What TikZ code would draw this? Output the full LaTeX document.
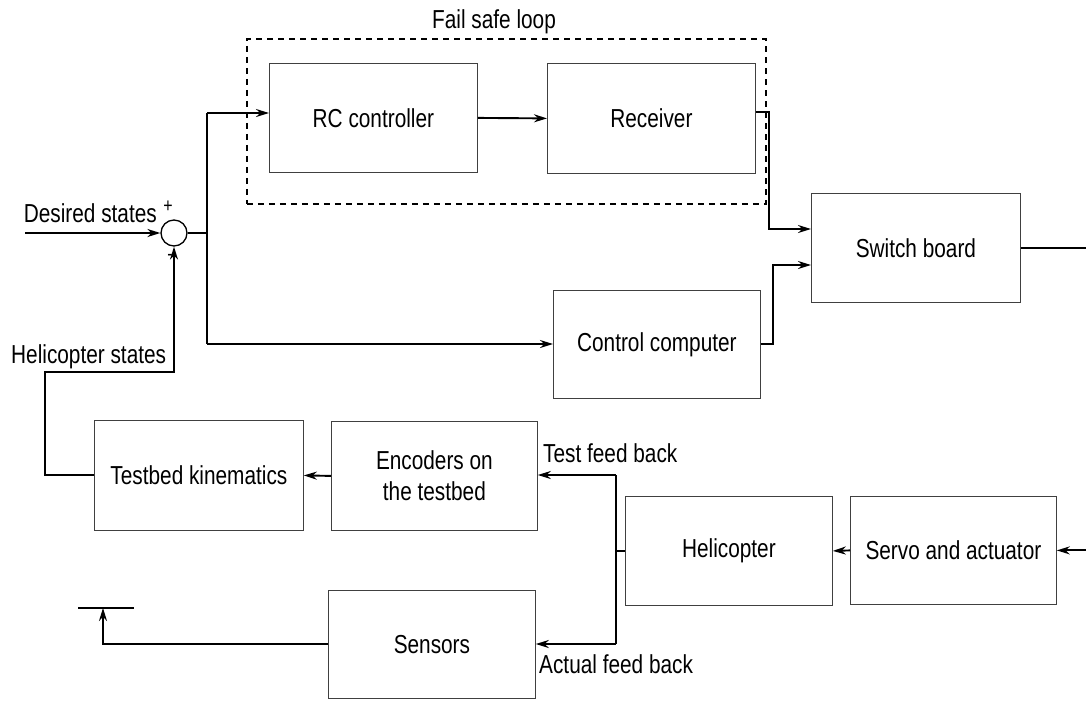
\documentclass[tikz,border=0pt]{standalone}
\usepackage{fontspec}
\setmainfont{Liberation Sans}[FakeStretch=0.8]
\usetikzlibrary{arrows.meta}
\begin{document}
\begin{tikzpicture}[x=1pt,y=-1pt,
  font=\fontsize{26}{31}\selectfont,
  block/.style={draw=black!75,line width=0.8pt,inner sep=0pt,anchor=north west,align=center},
  fsbox/.style={draw=black,line width=1.7pt,dash pattern=on 6pt off 5pt,inner sep=0pt,anchor=north west},
  wire/.style={draw=black,line width=1.9pt},
  arr/.style={wire,-{Stealth[length=13pt,width=8pt]}},
  sign/.style={font=\fontsize{20}{24}\selectfont,inner sep=0pt}]
\useasboundingbox (0,0) rectangle (1086,702);

% fail safe loop
\node[fsbox,minimum width=519pt,minimum height=165pt] (fsl) at (246,38) {};
\node[inner sep=0pt] (fsllabel) at (494,22) {Fail safe loop};

% blocks
\node[block,minimum width=208pt,minimum height=109pt] (rc) at (269,63) {RC controller};
\node[block,minimum width=208pt,minimum height=110pt] (rec) at (547,63) {Receiver};
\node[block,minimum width=209pt,minimum height=109pt] (sw) at (811,193) {Switch board};
\node[block,minimum width=207pt,minimum height=108pt] (cc) at (553,290) {Control computer};
\node[block,minimum width=209pt,minimum height=110pt] (tb) at (94,420) {Testbed kinematics};
\node[block,minimum width=206pt,minimum height=109pt] (enc) at (331,421) {Encoders on\\the testbed};
\node[block,minimum width=207pt,minimum height=109pt] (heli) at (625,496) {Helicopter};
\node[block,minimum width=206pt,minimum height=108pt] (servo) at (850,496) {Servo and actuator};
\node[block,minimum width=207pt,minimum height=108pt] (sens) at (328,590) {Sensors};

% summing junction
\node[draw=black,line width=1.3pt,circle,minimum size=26pt,inner sep=0pt] (sum) at (174,233) {};
\node[sign] (plus) at (168,207) {+};
\node[sign] (minus) at (170,257) {-};

% named points
\coordinate (din) at (25,233);
\coordinate (j) at (207,233);
\coordinate (jt) at (207,113);
\coordinate (jb) at (207,344);
\coordinate (r1) at (769,112);
\coordinate (r2) at (769,229);
\coordinate (c1) at (773,265);
\coordinate (redge) at (1086,0);
\coordinate (ft) at (616,475);
\coordinate (fb) at (616,644);
\coordinate (h1) at (174,372);
\coordinate (h2) at (45,372);
\coordinate (so) at (103,608);
\coordinate (bl) at (78,608);
\coordinate (br) at (134,608);

% labels
\node[anchor=base east,inner sep=0pt] (dslabel) at (157,222) {Desired states};
\node[anchor=base west,inner sep=0pt] (hslabel) at (11,363) {Helicopter states};
\node[anchor=base west,inner sep=0pt] (tfblabel) at (543,462) {Test feed back};
\node[anchor=base west,inner sep=0pt] (afblabel) at (539,673) {Actual feed back};

% forward path
\draw[arr] (din) -- (sum.west);
\draw[wire] (sum.east) -- (j);
\draw[wire] (jt) -- (jb);
\draw[arr] (jt) -- (rc.west |- jt);
\draw[arr] (jb) -- (cc.west |- jb);
\draw[arr] (rc.east) -- (rec.west);
\draw[arr] (rec.east |- r1) -- (r1) -- (r2) -- (sw.west |- r2);
\draw[arr] (cc.east) -| (c1) -- (sw.west |- c1);
\draw[wire] (sw.east) -- (sw.east -| redge);
\draw[arr] (servo.east -| redge) -- (servo.east);
\draw[arr] (servo.west) -- (heli.east);

% feedback paths
\draw[wire] (heli.west) -- (heli.west -| ft);
\draw[wire] (ft) -- (fb);
\draw[arr] (ft) -- (enc.east |- ft);
\draw[arr] (fb) -- (sens.east |- fb);
\draw[arr] (enc.west) -- (tb.east);
\draw[arr] (tb.west) -- (tb.west -| h2) -- (h2) -- (h1) -- (sum.south);
\draw[arr] (sens.west) -| (so);
\draw[wire] (bl) -- (br);
\end{tikzpicture}
\end{document}
